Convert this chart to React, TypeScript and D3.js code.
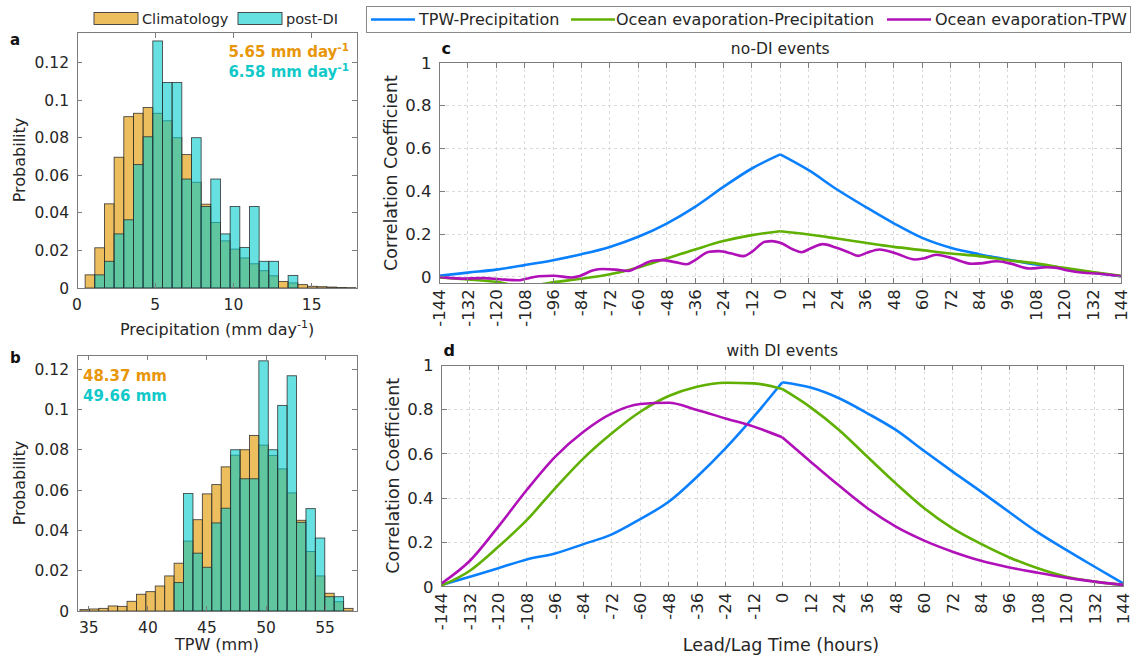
import React from "react";
import * as d3 from "d3";

const W = 1133;
const H = 657;
const FONT = "'DejaVu Sans', Verdana, sans-serif";
const TEXT = "#262626";
const AXIS = "#7c7c7c";
const GRID = "#d2d2d2";

// ---- Histogram data (probability per bin) ----
const precipBinStart = 0.52;
const precipBinWidth = 0.618;
const precipClimatology = [
  0.007, 0.0214, 0.0448, 0.0696, 0.0912, 0.093, 0.0961, 0.093, 0.089, 0.08,
  0.071, 0.0563, 0.0446, 0.0349, 0.0251, 0.0207, 0.016, 0.0129, 0.0092, 0.0065,
  0.0035, 0.0027, 0.0018, 0.0009, 0.0007, 0.0005, 0.0003, 0.0002,
];
const precipPostDI = [
  0, 0.007, 0.0142, 0.0288, 0.0363, 0.0657, 0.0805, 0.1315, 0.1094, 0.1094,
  0.058, 0.08, 0.0434, 0.058, 0.0288, 0.0434, 0.0216, 0.0434, 0.0142, 0.0142,
  0, 0.0067, 0, 0, 0, 0, 0, 0,
];
const precipTicks = [0, 5, 10, 15];

const tpwBinStart = 34.25;
const tpwBinWidth = 0.797;
const tpwClimatology = [
  0.0007, 0.001, 0.0013, 0.0025, 0.0023, 0.0048, 0.0083, 0.0096, 0.0124, 0.0174,
  0.0237, 0.0347, 0.0453, 0.0581, 0.0627, 0.0715, 0.0773, 0.08, 0.0871, 0.0823,
  0.0772, 0.0705, 0.0586, 0.045, 0.0295, 0.0174, 0.0088, 0.0046, 0.0013,
];
const tpwPostDI = [
  0, 0, 0, 0, 0, 0, 0, 0, 0, 0,
  0.0141, 0.0583, 0.0287, 0.0217, 0.0437, 0.051, 0.08, 0.0656, 0.0656, 0.1241,
  0.08, 0.102, 0.1167, 0.044, 0.0508, 0.0362, 0.0071, 0.0071, 0,
];
const tpwTicks = [35, 40, 45, 50, 55];
const probTicks = [0, 0.02, 0.04, 0.06, 0.08, 0.1, 0.12];

const precipMeans = ["5.65", "6.58"];
const tpwMeans = ["48.37", "49.66"];

// ---- Lead/lag correlation data ----
const leadLagHours = [
  -144, -132, -120, -108, -96, -84, -72, -60, -48, -36, -24, -12, 0,
  12, 24, 36, 48, 60, 72, 84, 96, 108, 120, 132, 144,
];
const corrTicks = [0, 0.2, 0.4, 0.6, 0.8, 1];

const noDiTpwPrecip = [
  0.005, 0.02, 0.034, 0.055, 0.078, 0.106, 0.14, 0.187, 0.249, 0.327, 0.42, 0.506, 0.572,
  0.498, 0.408, 0.327, 0.25, 0.182, 0.136, 0.106, 0.081, 0.058, 0.039, 0.02, 0.003,
];
const noDiEvapPrecip = [
  -0.003, -0.012, -0.023, -0.045, -0.025, -0.009, 0.012, 0.044, 0.086, 0.128, 0.167, 0.195, 0.213,
  0.198, 0.179, 0.159, 0.14, 0.125, 0.109, 0.097, 0.078, 0.063, 0.042, 0.023, 0.005,
];
const noDiEvapTpwHours = [
  -144, -135, -125.5, -118.5, -111, -107.5, -102, -96, -88, -85, -79, -75, -69.5, -64, -60,
  -54, -50, -44.5, -39.5, -36.5, -30, -26, -20.5, -15.5, -12, -6.5, -3.5, 0, 5.5, 9, 12.5,
  18, 23.5, 29.5, 33, 36.5, 42, 49, 57, 60.5, 66, 71.5, 81, 84.5, 91.5, 97, 105.5, 112.5,
  117, 121, 128, 134, 144,
];
const noDiEvapTpw = [
  0, -0.008, -0.006, -0.011, -0.016, -0.009, 0.003, 0.005, -0.003, 0.003, 0.031, 0.037, 0.034,
  0.028, 0.047, 0.075, 0.078, 0.069, 0.059, 0.075, 0.117, 0.12, 0.109, 0.097, 0.117, 0.164,
  0.167, 0.159, 0.128, 0.115, 0.131, 0.153, 0.137, 0.112, 0.098, 0.112, 0.128, 0.109, 0.081,
  0.086, 0.103, 0.091, 0.061, 0.063, 0.073, 0.063, 0.039, 0.045, 0.042, 0.031, 0.019, 0.016,
  0.003,
];

const diTpwPrecip = [
  0.008, 0.045, 0.083, 0.123, 0.15, 0.192, 0.236, 0.305, 0.383, 0.496, 0.624, 0.767, 0.922,
  0.898, 0.85, 0.782, 0.707, 0.612, 0.519, 0.429, 0.336, 0.245, 0.166, 0.09, 0.015,
];
const diEvapPrecip = [
  0.005, 0.072, 0.18, 0.3, 0.444, 0.579, 0.692, 0.789, 0.86, 0.902, 0.92, 0.917, 0.892,
  0.809, 0.707, 0.586, 0.466, 0.354, 0.263, 0.193, 0.132, 0.083, 0.045, 0.023, 0.008,
];
const diEvapTpw = [
  0.015, 0.117, 0.271, 0.436, 0.586, 0.699, 0.782, 0.824, 0.83, 0.797, 0.759, 0.722, 0.674,
  0.564, 0.456, 0.354, 0.271, 0.208, 0.158, 0.117, 0.087, 0.063, 0.041, 0.023, 0.008,
];

const seriesNames = ["TPW-Precipitation", "Ocean evaporation-Precipitation", "Ocean evaporation-TPW"];
const seriesColors = ["#0a80ff", "#5fb000", "#b010b8"];

const ORANGE = "#e6a219";
const ORANGE_OPACITY = 0.7;
const CYAN = "#00cccc";
const CYAN_OPACITY = 0.6;
const ORANGE_TEXT = "#e8960a";
const CYAN_TEXT = "#12c9c9";

type FrameProps = {
  x0: number; x1: number; y0: number; y1: number;
  xt: number[]; yt: number[]; len?: number;
};

function Frame({ x0, x1, y0, y1, xt, yt, len = 5 }: FrameProps) {
  return (
    <g stroke={AXIS} strokeWidth={1} fill="none" shapeRendering="crispEdges">
      <rect x={x0} y={y0} width={x1 - x0} height={y1 - y0} />
      {xt.map((px, i) => (
        <g key={"x" + i}>
          <line x1={px} x2={px} y1={y1} y2={y1 - len} />
          <line x1={px} x2={px} y1={y0} y2={y0 + len} />
        </g>
      ))}
      {yt.map((py, i) => (
        <g key={"y" + i}>
          <line x1={x0} x2={x0 + len} y1={py} y2={py} />
          <line x1={x1} x2={x1 - len} y1={py} y2={py} />
        </g>
      ))}
    </g>
  );
}

type HistProps = {
  x0: number; x1: number; y0: number; y1: number;
  xDomain: [number, number]; yMax: number;
  binStart: number; binWidth: number;
  clim: number[]; post: number[]; xTicks: number[];
};

function Histogram({ x0, x1, y0, y1, xDomain, yMax, binStart, binWidth, clim, post, xTicks }: HistProps) {
  const x = d3.scaleLinear().domain(xDomain).range([x0, x1]);
  const y = d3.scaleLinear().domain([0, yMax]).range([y1, y0]);
  const bar = (v: number, i: number, fill: string, op: number, key: string) => {
    if (v <= 0) return null;
    const left = x(binStart + i * binWidth);
    const right = x(binStart + (i + 1) * binWidth);
    return (
      <rect key={key} x={left} y={y(v)} width={right - left} height={y(0) - y(v)}
        fill={fill} fillOpacity={op} stroke="#2a2a2a" strokeOpacity={0.85} strokeWidth={0.9} />
    );
  };
  return (
    <g>
      {clim.map((v, i) => bar(v, i, ORANGE, ORANGE_OPACITY, "c" + i))}
      {post.map((v, i) => bar(v, i, CYAN, CYAN_OPACITY, "p" + i))}
      <Frame x0={x0} x1={x1} y0={y0} y1={y1} xt={xTicks.map((t) => x(t))} yt={probTicks.map((t) => y(t))} />
      {probTicks.map((t) => (
        <text key={"yl" + t} x={x0 - 8} y={y(t)} dy="0.36em" textAnchor="end" fontSize={15.5} fill={TEXT}>
          {t === 0 ? "0" : String(+t.toFixed(2))}
        </text>
      ))}
      {xTicks.map((t) => (
        <text key={"xl" + t} x={x(t)} y={y1 + 22} textAnchor="middle" fontSize={15.5} fill={TEXT}>
          {t}
        </text>
      ))}
    </g>
  );
}

type Series = { hours: number[]; values: number[]; color: string; split: boolean };

type LineProps = {
  x0: number; x1: number; y0: number; y1: number;
  yMin: number; series: Series[]; title: string; letter: string; id: string;
};

function LinePanel({ x0, x1, y0, y1, yMin, series, title, letter, id }: LineProps) {
  const x = d3.scaleLinear().domain([-144, 144]).range([x0, x1]);
  const y = d3.scaleLinear().domain([yMin, 1]).range([y1, y0]);
  const line = d3
    .line<[number, number]>()
    .x((d) => x(d[0]))
    .y((d) => y(d[1]))
    .curve(d3.curveMonotoneX);
  const paths: { d: string; color: string }[] = [];
  series.forEach((s) => {
    const pts: [number, number][] = s.hours.map((h, i) => [h, s.values[i]]);
    if (s.split) {
      // the lag-0 point is a sharp corner, so each side is smoothed separately
      paths.push({ d: line(pts.filter((p) => p[0] <= 0)) || "", color: s.color });
      paths.push({ d: line(pts.filter((p) => p[0] >= 0)) || "", color: s.color });
    } else {
      paths.push({ d: line(pts) || "", color: s.color });
    }
  });
  const cx = (x0 + x1) / 2;
  return (
    <g>
      <defs>
        <clipPath id={id}>
          <rect x={x0} y={y0} width={x1 - x0} height={y1 - y0} />
        </clipPath>
      </defs>
      <g stroke={GRID} strokeWidth={0.8} strokeDasharray="3,3" shapeRendering="crispEdges">
        {leadLagHours.filter((h) => h > -144 && h < 144).map((h) => (
          <line key={"gx" + h} x1={x(h)} x2={x(h)} y1={y0} y2={y1} />
        ))}
        {corrTicks.filter((t) => t > yMin && t < 1).map((t) => (
          <line key={"gy" + t} x1={x0} x2={x1} y1={y(t)} y2={y(t)} />
        ))}
      </g>
      <g clipPath={`url(#${id})`} fill="none" strokeWidth={2.6} strokeLinejoin="round">
        {paths.map((p, i) => (
          <path key={i} d={p.d} stroke={p.color} />
        ))}
      </g>
      <Frame x0={x0} x1={x1} y0={y0} y1={y1} xt={leadLagHours.map((h) => x(h))} yt={corrTicks.map((t) => y(t))} />
      {corrTicks.map((t) => (
        <text key={"yl" + t} x={x0 - 8} y={y(t)} dy="0.36em" textAnchor="end" fontSize={16.5} fill={TEXT}>
          {String(t)}
        </text>
      ))}
      {leadLagHours.map((h) => (
        <text key={"xl" + h} transform={`translate(${x(h)},${y1 + 6}) rotate(-90)`} textAnchor="end"
          dy="0.36em" fontSize={16.5} fill={TEXT}>
          {String(h)}
        </text>
      ))}
      <text transform={`translate(${x0 - 43},${(y0 + y1) / 2}) rotate(-90)`} textAnchor="middle" fontSize={17.5} fill={TEXT}>
        Correlation Coefficient
      </text>
      <text x={cx} y={y0 - 9} textAnchor="middle" fontSize={15.5} fill={TEXT}>
        {title}
      </text>
      <text x={x0 + 2} y={y0 - 9} fontSize={16} fontWeight="bold" fill="#111">
        {letter}
      </text>
    </g>
  );
}

export default function App() {
  const hoursFull = leadLagHours;
  const noDi: Series[] = [
    { hours: hoursFull, values: noDiTpwPrecip, color: seriesColors[0], split: true },
    { hours: hoursFull, values: noDiEvapPrecip, color: seriesColors[1], split: true },
    { hours: noDiEvapTpwHours, values: noDiEvapTpw, color: seriesColors[2], split: false },
  ];
  const withDi: Series[] = [
    { hours: hoursFull, values: diTpwPrecip, color: seriesColors[0], split: true },
    { hours: hoursFull, values: diEvapPrecip, color: seriesColors[1], split: true },
    { hours: hoursFull, values: diEvapTpw, color: seriesColors[2], split: true },
  ];

  // legend layout for the correlation panels
  const legendItems = [
    { lx: 371, tx: 419 },
    { lx: 571, tx: 616 },
    { lx: 887, tx: 935 },
  ];

  return (
    <svg width={W} height={H} viewBox={`0 0 ${W} ${H}`}
      style={{ position: "absolute", left: 0, top: 0, background: "#fff" }} fontFamily={FONT}>
      <rect x={0} y={0} width={W} height={H} fill="#fff" />

      {/* Histogram legend */}
      <rect x={94} y={12.5} width={44} height={12} fill={ORANGE} fillOpacity={ORANGE_OPACITY} stroke="#3a3a3a" strokeWidth={0.9} />
      <text x={142} y={24} fontSize={14.5} fill={TEXT}>Climatology</text>
      <rect x={238} y={12.5} width={44} height={12} fill={CYAN} fillOpacity={CYAN_OPACITY} stroke="#3a3a3a" strokeWidth={0.9} />
      <text x={286} y={24} fontSize={14.5} fill={TEXT}>post-DI</text>

      {/* Panel a */}
      <Histogram x0={77} x1={357} y0={32.5} y1={288} xDomain={[0, 17.9]} yMax={0.136}
        binStart={precipBinStart} binWidth={precipBinWidth} clim={precipClimatology} post={precipPostDI} xTicks={precipTicks} />
      <text x={10} y={45} fontSize={15} fontWeight="bold" fill="#111">a</text>
      <text transform="translate(25,160) rotate(-90)" textAnchor="middle" fontSize={16} fill={TEXT}>Probability</text>
      <text x={217} y={335} textAnchor="middle" fontSize={16} fill={TEXT}>
        Precipitation (mm day<tspan dy={-7} fontSize={11}>-1</tspan><tspan dy={7}>)</tspan>
      </text>
      <text x={349} y={57} textAnchor="end" fontSize={15} fontWeight="bold" fill={ORANGE_TEXT}>
        {precipMeans[0]} mm day<tspan dy={-6} fontSize={10.5}>-1</tspan>
      </text>
      <text x={349} y={77} textAnchor="end" fontSize={15} fontWeight="bold" fill={CYAN_TEXT}>
        {precipMeans[1]} mm day<tspan dy={-6} fontSize={10.5}>-1</tspan>
      </text>

      {/* Panel b */}
      <Histogram x0={77} x1={357} y0={355} y1={611} xDomain={[34.0, 57.7]} yMax={0.127}
        binStart={tpwBinStart} binWidth={tpwBinWidth} clim={tpwClimatology} post={tpwPostDI} xTicks={tpwTicks} />
      <text x={10} y={363} fontSize={15} fontWeight="bold" fill="#111">b</text>
      <text transform="translate(25,483) rotate(-90)" textAnchor="middle" fontSize={16} fill={TEXT}>Probability</text>
      <text x={217} y={650} textAnchor="middle" fontSize={16} fill={TEXT}>TPW (mm)</text>
      <text x={83} y={381} fontSize={15} fontWeight="bold" fill={ORANGE_TEXT}>{tpwMeans[0]} mm</text>
      <text x={83} y={401} fontSize={15} fontWeight="bold" fill={CYAN_TEXT}>{tpwMeans[1]} mm</text>

      {/* Correlation legend */}
      <rect x={366.5} y={6.5} width={764} height={26} fill="#fff" stroke="#8a8a8a" strokeWidth={1} shapeRendering="crispEdges" />
      {seriesNames.map((name, i) => (
        <g key={name}>
          <line x1={legendItems[i].lx} x2={legendItems[i].lx + 44} y1={19.5} y2={19.5} stroke={seriesColors[i]} strokeWidth={2.6} />
          <text x={legendItems[i].tx} y={25} fontSize={16} fill={TEXT}>{name}</text>
        </g>
      ))}

      {/* Panel c */}
      <LinePanel id="clip-c" x0={439.5} x1={1121} y0={62.7} y1={283.3} yMin={-0.03}
        series={noDi} title="no-DI events" letter="c" />

      {/* Panel d */}
      <LinePanel id="clip-d" x0={441.5} x1={1123} y0={365} y1={586.7} yMin={0}
        series={withDi} title="with DI events" letter="d" />
      <text x={781} y={651} textAnchor="middle" fontSize={17.5} fill={TEXT}>Lead/Lag Time (hours)</text>
    </svg>
  );
}
